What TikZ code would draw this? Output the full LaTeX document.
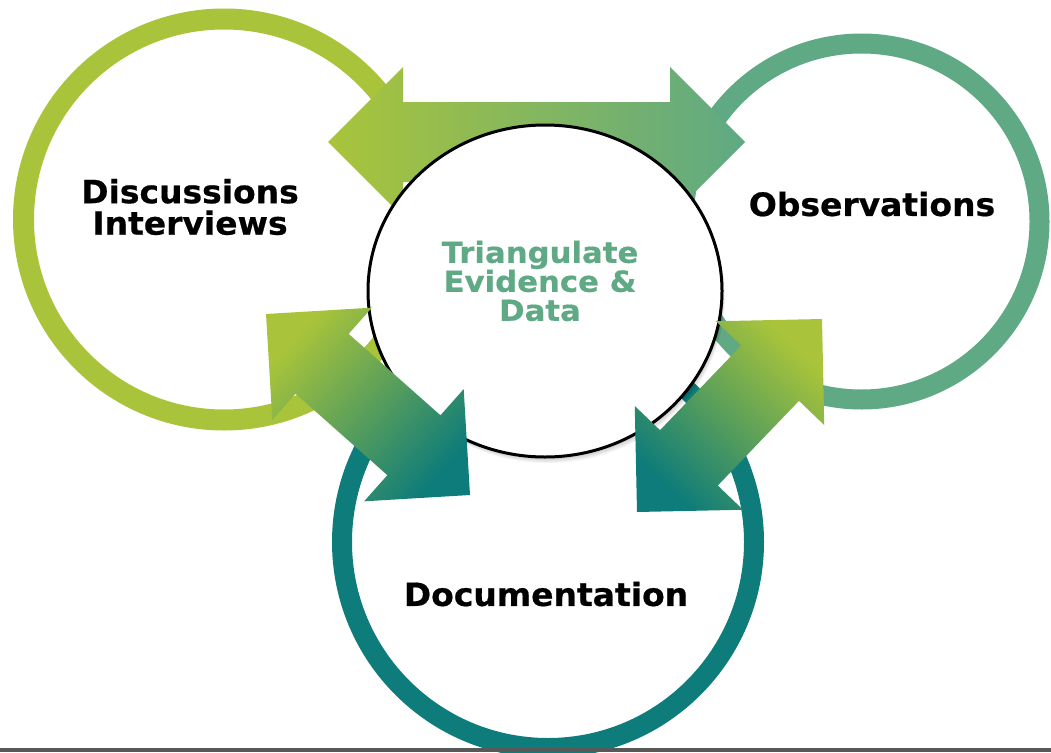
\documentclass[tikz,border=0pt]{standalone}
\usepackage{fontspec}
\newfontfamily\lblfont{DejaVu Sans Bold}[FakeStretch=1.03,FakeBold=0.6]
\newfontfamily\ctrfont{DejaVu Sans Bold}[FakeStretch=1.06,FakeBold=0.5]
\usetikzlibrary{calc,shapes.geometric}
\definecolor{yg}{RGB}{169,196,58}
\definecolor{gr}{RGB}{95,169,132}
\definecolor{tl}{RGB}{14,124,122}
\definecolor{barc}{RGB}{88,88,88}
% double block arrow between two named tips: #1 tip A, #2 tip B, #3 shading options
\newcommand{\blockarrow}[3]{%
  \path ($(#1)!75pt!(#2)$) coordinate (ha) ($(#2)!75pt!(#1)$) coordinate (hb);
  \shade[#3] (#1) -- ($(ha)!75pt!90:(#2)$) -- ($(ha)!40pt!90:(#2)$)
    -- ($(hb)!40pt!-90:(#1)$) -- ($(hb)!75pt!-90:(#1)$) -- (#2)
    -- ($(hb)!75pt!90:(#1)$) -- ($(hb)!40pt!90:(#1)$)
    -- ($(ha)!40pt!-90:(#2)$) -- ($(ha)!75pt!-90:(#2)$) -- cycle;
}
\begin{document}
\begin{tikzpicture}[x=1pt,y=-1pt,
  ring/.style={line width=20pt},
  lbl/.style={font=\lblfont\fontsize{32}{31.5}\selectfont, inner sep=0pt, align=center, text=black},
  ctr/.style={font=\ctrfont\fontsize{29}{29}\selectfont, inner sep=0pt, align=center, text=gr}]
\useasboundingbox (0,0) rectangle (1051,752);
\clip (0,0) rectangle (1051,752);
\fill[white] (0,0) rectangle (1051,752);
% centres
\coordinate (L) at (224,219.5);
\coordinate (R) at (861.5,221.5);
\coordinate (B) at (548,542);
\coordinate (C) at (545,291);
% rings
\draw[ring, yg, line width=21pt] (L) circle[radius=200.5];
\draw[ring, gr] (R) circle[radius=178];
\draw[ring, tl] (B) circle[radius=206];
% top arrow (behind the hub)
\coordinate (tA) at (328,142);
\coordinate (tB) at (745,142);
\blockarrow{tA}{tB}{left color=yg, right color=gr}
% hub shadow and hub
\foreach \s in {1,2,3,4,5}
  \fill[black, opacity=0.045] ($(C)+(0.6*\s,1.2*\s)$) ellipse[x radius=177, y radius=166];
\node[draw=black, line width=3pt, fill=white, ellipse, minimum width=354pt, minimum height=332pt, inner sep=0pt] (hub) at (C) {};
% lower arrows
\coordinate (lA) at (266,314);
\coordinate (lB) at (470,495);
\blockarrow{lA}{lB}{top color=yg, bottom color=tl, shading angle=48}
\coordinate (rA) at (822,319);
\coordinate (rB) at (637,512);
\blockarrow{rA}{rB}{top color=yg, bottom color=tl, shading angle=-44}
% labels
\node[lbl] (disc) at (190,207) {Discussions\\Interviews};
\node[lbl] (obs) at (872,204) {Observations};
\node[lbl] (doc) at (546,594) {Documentation};
\node[ctr] (tri) at (540,281) {Triangulate\\Evidence \&\\Data};
% bottom bar
\fill[barc] (0,748) rectangle (1051,752);
\end{tikzpicture}
\end{document}
